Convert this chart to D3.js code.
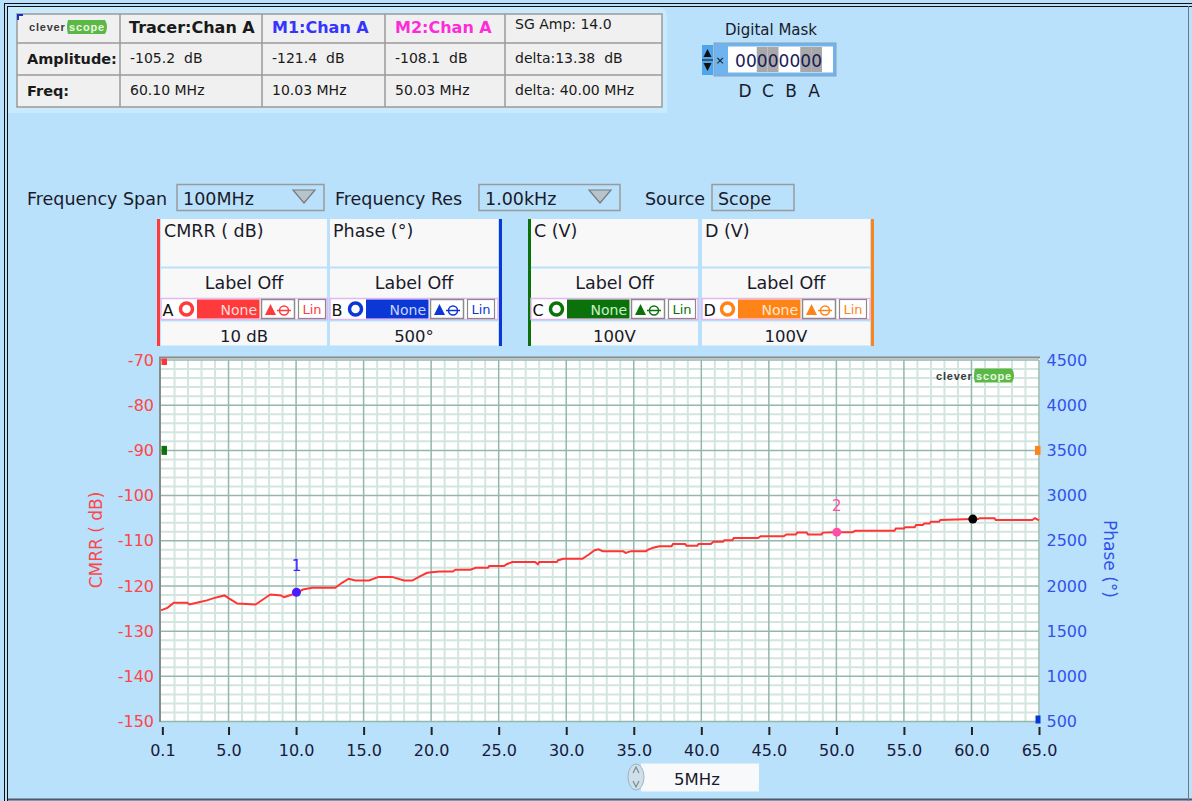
<!DOCTYPE html>
<html><head><meta charset="utf-8">
<script src="https://cdn.jsdelivr.net/npm/d3@7"></script>
<style>body{margin:0;background:#b9e1fb;} svg{display:block}</style>
</head><body><svg id="c" width="1192" height="801"></svg>
<script>
// ---------------- DATA ----------------
const freqMHz = [0,0.5,0.95,1.95,2.1,2.8,3.4,3.9,4.7,5.0,5.65,7.0,7.6,8.1,8.9,9.1,9.5,10.03,10.5,11.2,12.9,13.4,13.9,14.4,15.4,16.1,17.1,18.0,18.6,19.1,19.7,20.6,21.6,21.8,22.9,23.3,24.2,24.3,25.4,25.6,26.0,27.7,27.9,28.0,29.3,29.4,29.8,31.2,31.7,32.1,32.4,32.7,34.2,34.4,34.8,35.9,36.1,36.5,36.9,37.8,37.9,38.8,38.9,39.7,39.8,40.7,40.9,41.6,41.7,42.3,42.4,44.2,44.4,46.1,46.3,47.0,47.1,47.8,47.9,48.9,49.0,50.03,51.2,51.4,54.3,54.4,55.0,55.1,55.8,55.9,56.4,56.5,56.9,57.0,57.6,57.7,60.1,60.5,60.6,61.7,61.8,64.5,64.7,65.0];
const cmrrDb = [-125.4,-124.8,-123.7,-123.7,-124.1,-123.6,-123.2,-122.7,-122.1,-122.7,-123.9,-124.1,-122.9,-121.9,-122.1,-122.5,-122.1,-121.6,-120.8,-120.4,-120.4,-119.3,-118.4,-118.8,-118.8,-118.0,-118.0,-118.8,-118.8,-118.0,-117.1,-116.8,-116.8,-116.4,-116.4,-116.0,-116.0,-115.6,-115.6,-115.2,-114.7,-114.7,-115.2,-114.7,-114.7,-114.3,-114.0,-114.0,-113.0,-112.1,-111.9,-112.3,-112.3,-112.7,-112.3,-112.3,-111.9,-111.5,-111.2,-111.2,-110.7,-110.7,-111.1,-111.1,-110.7,-110.7,-110.2,-110.2,-109.9,-109.9,-109.4,-109.4,-109.0,-109.0,-108.6,-108.6,-108.2,-108.2,-108.6,-108.6,-108.2,-108.1,-108.1,-107.8,-107.8,-107.3,-107.3,-107.0,-107.0,-106.5,-106.5,-106.2,-106.2,-105.8,-105.8,-105.4,-105.2,-105.2,-105.0,-105.0,-105.4,-105.4,-105.0,-105.5];
const xTicks = [0.1,5,10,15,20,25,30,35,40,45,50,55,60,65];
const leftTicks = [-70,-80,-90,-100,-110,-120,-130,-140,-150];
const rightTicks = [4500,4000,3500,3000,2500,2000,1500,1000,500];
const markerLabels = ["1","2",""];
const markerFreq = [10.03,50.03,60.10];
const markerDb = [-121.4,-108.1,-105.2];
const markerColors = ["#4a1cff","#ff4fa6","#000000"];
const tableHeaders = ["Tracer:Chan A","M1:Chan A","M2:Chan A","SG Amp: 14.0"];
const rowLabels = ["Amplitude:","Freq:"];
const amplitudeVals = ["-105.2  dB","-121.4  dB","-108.1  dB","delta:13.38  dB"];
const freqVals = ["60.10 MHz","10.03 MHz","50.03 MHz","delta: 40.00 MHz"];
const channelNames = ["CMRR ( dB)","Phase (°)","C (V)","D (V)"];
const channelLetters = ["A","B","C","D"];
const channelScales = ["10 dB","500°","100V","100V"];
const maskDigits = ["0","0","0","0","0","0","0","0"];
const maskBits = ["D","C","B","A"];
const controlLabels = ["Frequency Span","Frequency Res","Source"];
const controlValues = ["100MHz","1.00kHz","Scope"];
const leftOffsetMarks = [-70,-90];
const rightOffsetMarks = [3500,500];

// ---------------- STYLE / LAYOUT ----------------
const W=1192,H=801;
const BG="#b9e1fb";
const UI="'DejaVu Sans', sans-serif";
const chColors = ["#ff3a3a","#0a37d5","#0b720b","#ff8417"];
const chLight = ["#ffdada","#c8d4ff","#c8f0c8","#ffe6cc"];
const svg = d3.select("#c");
svg.append("rect").attr("width",W).attr("height",H).attr("fill",BG);

// outer frame
const fr = svg.append("g").attr("stroke","#111").attr("stroke-width",1).attr("fill","none");
fr.append("line").attr("x1",4).attr("x2",W).attr("y1",3.5).attr("y2",3.5);
fr.append("line").attr("x1",7).attr("x2",W).attr("y1",6.5).attr("y2",6.5);
fr.append("line").attr("x1",4.5).attr("x2",4.5).attr("y1",3).attr("y2",H);
fr.append("line").attr("x1",7.5).attr("x2",7.5).attr("y1",6).attr("y2",H);
svg.append("line").attr("x1",8).attr("x2",W).attr("y1",799.5).attr("y2",799.5).attr("stroke","#4a5a68").attr("stroke-width",2);
svg.append("line").attr("x1",1188.5).attr("x2",1188.5).attr("y1",6).attr("y2",H).attr("stroke","#6a7a88").attr("stroke-width",1);

// ---------- top table ----------
svg.append("path").attr("d","M8,7 H656 Q667,7 667,18 V113 H8 Z").attr("fill","#c7eafc");
const colX=[17,120,262,385,505,662], rowY=[14,43,75,107];
const tb = svg.append("g");
tb.append("rect").attr("x",colX[0]).attr("y",rowY[0]).attr("width",colX[5]-colX[0]).attr("height",rowY[3]-rowY[0]).attr("fill","#f0f0f0").attr("stroke","#9a9a9a").attr("stroke-width",1.5);
colX.slice(1,5).forEach(x=>tb.append("line").attr("x1",x).attr("x2",x).attr("y1",rowY[0]).attr("y2",rowY[3]).attr("stroke","#9a9a9a").attr("stroke-width",1.5));
rowY.slice(1,3).forEach(y=>tb.append("line").attr("x1",colX[0]).attr("x2",colX[5]).attr("y1",y).attr("y2",y).attr("stroke","#9a9a9a").attr("stroke-width",1.5));
tb.append("path").attr("d","M18,20 V15 H23").attr("stroke","#1a2fc0").attr("stroke-width",2).attr("fill","none");
function logo(g,x,y){
  // "clever" dark text + "scope" on a green pill; y = vertical centre
  g.append("text").attr("x",x).attr("y",y+4).attr("font-family","'Liberation Sans',Arial").attr("font-weight","bold")
    .attr("font-size",11).attr("letter-spacing",0.8).attr("fill","#3a3a3a").text("clever");
  const lx=x+39, pw=40, ph=7;
  g.append("path").attr("d",`M${lx},${y-ph} H${lx+pw-3} Q${lx+pw+1},${y} ${lx+pw-3},${y+ph} H${lx} Q${lx-2},${y} ${lx},${y-ph} Z`).attr("fill","#5cb846");
  g.append("text").attr("x",lx+pw/2-1).attr("y",y+4).attr("text-anchor","middle").attr("font-family","'Liberation Sans',Arial").attr("font-weight","bold")
    .attr("font-size",11).attr("letter-spacing",0.8).attr("fill","#e8f8e0").text("scope");
}
logo(tb,29,27);
const hdrColors=["#1a1a1a","#3535ff","#ff2bd8","#1a1a1a"];
tableHeaders.forEach((t,i)=>{
  tb.append("text").attr("x",colX[i+1]+(i===0?9:10)).attr("y",i===3?29:33).attr("font-family",UI)
    .attr("font-weight",i===3?"normal":"bold").attr("font-size",i===3?14:16).attr("fill",hdrColors[i]).text(t);
});
rowLabels.forEach((t,i)=>tb.append("text").attr("x",27).attr("y",i===0?64:96).attr("font-family",UI).attr("font-weight","bold").attr("font-size",14.5).attr("fill","#1a1a1a").text(t));
amplitudeVals.forEach((t,i)=>tb.append("text").attr("x",colX[i+1]+10).attr("y",63).attr("font-family",UI).attr("font-size",14).attr("fill","#1a1a1a").attr("xml:space","preserve").text(t));
freqVals.forEach((t,i)=>tb.append("text").attr("x",colX[i+1]+10).attr("y",95).attr("font-family",UI).attr("font-size",14).attr("fill","#1a1a1a").attr("xml:space","preserve").text(t));

// ---------- Digital mask ----------
const dm = svg.append("g");
dm.append("text").attr("x",771).attr("y",35).attr("text-anchor","middle").attr("font-family",UI).attr("font-size",15).attr("fill","#1a1a2a").text("Digital Mask");
dm.append("rect").attr("x",702).attr("y",45).attr("width",11).attr("height",30).attr("fill","#4fa6ec");
dm.append("path").attr("d","M703.5,57 L707.5,49 L711.5,57 Z M703.5,63 L707.5,71 L711.5,63 Z").attr("fill","#111");
dm.append("line").attr("x1",702).attr("x2",713).attr("y1",60).attr("y2",60).attr("stroke","#111");
dm.append("rect").attr("x",714).attr("y",43).attr("width",122).attr("height",33).attr("fill","#6fb4ee").attr("stroke","#8aa2b8");
dm.append("text").attr("x",720).attr("y",64).attr("text-anchor","middle").attr("font-family",UI).attr("font-size",11).attr("fill","#111").text("×");
dm.append("rect").attr("x",728).attr("y",46.5).attr("width",105).attr("height",26).attr("fill","#fff");
const dX = d3.scaleBand().domain(d3.range(8)).range([735,822]);
dm.selectAll(".hl").data(maskDigits).join("rect").attr("x",(d,i)=>dX(i)).attr("y",47).attr("width",dX.bandwidth()).attr("height",25)
  .attr("fill",(d,i)=>(Math.floor(i/2)%2===1)?"#a8a8a8":"none");
dm.selectAll(".dg").data(maskDigits).join("text").attr("x",(d,i)=>dX(i)+dX.bandwidth()/2).attr("y",67).attr("text-anchor","middle")
  .attr("font-family",UI).attr("font-size",17).attr("fill","#1a1a5a").text(d=>d);
const bX = d3.scalePoint().domain(maskBits).range([745,814]);
dm.selectAll(".bt").data(maskBits).join("text").attr("x",d=>bX(d)).attr("y",97).attr("text-anchor","middle")
  .attr("font-family",UI).attr("font-size",17).attr("fill","#1a1a2a").text(d=>d);

// ---------- control row ----------
const ctl = svg.append("g").attr("font-family",UI).attr("font-size",17.5).attr("fill","#1a1a2a");
const ctlLabelX=[27,335,645], boxX=[177,479,712], boxW=[147,141,82];
controlLabels.forEach((t,i)=>{
  ctl.append("text").attr("x",ctlLabelX[i]).attr("y",205).text(t);
  ctl.append("rect").attr("x",boxX[i]).attr("y",184.5).attr("width",boxW[i]).attr("height",26).attr("fill","none").attr("stroke","#9a9a9a").attr("stroke-width",1.5);
  ctl.append("text").attr("x",boxX[i]+6).attr("y",205).text(controlValues[i]);
  if(i<2){const tx=boxX[i]+boxW[i]-31;
    ctl.append("path").attr("d",`M${tx},${190} H${tx+22} L${tx+11},${203} Z`).attr("fill","#b8c4cc").attr("stroke","#7a7a7a").attr("stroke-width",1.2);}
});

// ---------- channel panels ----------
const panelL=[161,330,531,702], panelR=[327,498,698,870], barX=[157,499,528,871];
const pg = svg.append("g").attr("font-family",UI);
channelNames.forEach((name,i)=>{
  const L=panelL[i], R=panelR[i], w=R-L, c=chColors[i];
  pg.append("rect").attr("x",L).attr("y",219).attr("width",w).attr("height",47.5).attr("fill","#f8f8f8");
  pg.append("rect").attr("x",L).attr("y",268.5).attr("width",w).attr("height",29.5).attr("fill","#f8f8f8");
  pg.append("rect").attr("x",L).attr("y",321.5).attr("width",w).attr("height",24).attr("fill","#f8f8f8");
  pg.append("rect").attr("x",barX[i]).attr("y",219).attr("width",3).attr("height",127).attr("fill",c);
  pg.append("text").attr("x",L+3).attr("y",237).attr("font-size",17.5).attr("fill","#1a1a2a").text(name);
  pg.append("text").attr("x",L+w/2).attr("y",289).attr("text-anchor","middle").attr("font-size",17.5).attr("fill","#1a1a2a").text("Label Off");
  pg.append("text").attr("x",L+w/2).attr("y",342).attr("text-anchor","middle").attr("font-size",16.5).attr("fill","#1a1a2a").text(channelScales[i]);
  // button row
  pg.append("rect").attr("x",L).attr("y",298.5).attr("width",w).attr("height",21).attr("fill","#fff").attr("stroke","#e2b6ee").attr("stroke-width",1.5);
  pg.append("text").attr("x",L+1.5).attr("y",315.5).attr("font-size",16).attr("fill","#111").text(channelLetters[i]);
  pg.append("circle").attr("cx",L+25.5).attr("cy",309).attr("r",6).attr("fill","#fff").attr("stroke",c).attr("stroke-width",3.5);
  pg.append("rect").attr("x",L+36).attr("y",299.5).attr("width",62.5).attr("height",19).attr("fill",c);
  pg.append("text").attr("x",L+96).attr("y",314.5).attr("text-anchor","end").attr("font-size",14).attr("fill",chLight[i]).text("None");
  pg.append("rect").attr("x",L+100.5).attr("y",299.5).attr("width",33).attr("height",19).attr("fill","#fff").attr("stroke","#8a8a8a").attr("stroke-width",1.5);
  pg.append("path").attr("d",`M${L+104},${315} L${L+109.5},${304} L${L+115},${315} Z`).attr("fill",c);
  pg.append("circle").attr("cx",L+123).attr("cy",310.5).attr("r",4.5).attr("fill","none").attr("stroke",c).attr("stroke-width",1.5);
  pg.append("line").attr("x1",L+116).attr("x2",L+130).attr("y1",310.5).attr("y2",310.5).attr("stroke",c).attr("stroke-width",1.5);
  pg.append("rect").attr("x",L+137.5).attr("y",299.5).attr("width",27).attr("height",19).attr("fill","#fff").attr("stroke","#8a8a8a").attr("stroke-width",1.2);
  pg.append("text").attr("x",L+151).attr("y",314).attr("text-anchor","middle").attr("font-size",13).attr("fill",c).text("Lin");
});

// ---------- plot ----------
const x = d3.scaleLinear().domain([0,65]).range([161,1039]);
const yL = d3.scaleLinear().domain([-150,-70]).range([721.5,360]);
const yR = d3.scaleLinear().domain([500,4500]).range([721.5,360]);
const plot = svg.append("g");
plot.append("rect").attr("x",160).attr("y",358).attr("width",880).attr("height",364).attr("fill","#fff");
const minorX = d3.range(0,66,1).filter(v=>v%5!==0 && v>0);
const minorY = d3.range(-150,-69,2).filter(v=>v%10!==0);
plot.selectAll(".mx").data(minorX).join("line").attr("x1",d=>x(d)).attr("x2",d=>x(d)).attr("y1",360).attr("y2",721.5).attr("stroke","#d3e5df").attr("stroke-width",2);
plot.selectAll(".my").data(minorY).join("line").attr("x1",161).attr("x2",1039).attr("y1",d=>yL(d)).attr("y2",d=>yL(d)).attr("stroke","#d3e5df").attr("stroke-width",2);
plot.selectAll(".Mx").data(xTicks.slice(1)).join("line").attr("x1",d=>x(d)).attr("x2",d=>x(d)).attr("y1",360).attr("y2",721.5).attr("stroke","#93b7ad").attr("stroke-width",1.5);
plot.selectAll(".My").data(leftTicks).join("line").attr("x1",161).attr("x2",1039).attr("y1",d=>yL(d)).attr("y2",d=>yL(d)).attr("stroke","#93b7ad").attr("stroke-width",1.5);
plot.append("path").attr("d","M160,722 V357.5 H1040").attr("fill","none").attr("stroke","#8a8a8a").attr("stroke-width",2);

// logo in plot
logo(plot,936,375.5);

// trace
const pts = freqMHz.map((f,i)=>[f,cmrrDb[i]]);
plot.append("path").datum(pts).attr("fill","none").attr("stroke","#ff3535").attr("stroke-width",2)
  .attr("d",d3.line().x(d=>x(d[0])).y(d=>yL(d[1])));

// markers
markerFreq.forEach((f,i)=>{
  plot.append("circle").attr("cx",x(f)).attr("cy",yL(markerDb[i])).attr("r",4.5).attr("fill",markerColors[i]);
  if(markerLabels[i]) plot.append("text").attr("x",x(f)).attr("y",yL(markerDb[i])-21).attr("text-anchor","middle")
    .attr("font-family",UI).attr("font-size",15).attr("fill",markerColors[i]).text(markerLabels[i]);
});

// offset marks
plot.append("rect").attr("x",161.5).attr("y",yL(leftOffsetMarks[0])-1.5).attr("width",5.5).attr("height",6.5).attr("fill","#ff3535");
plot.append("rect").attr("x",161.5).attr("y",yL(leftOffsetMarks[1])-4.5).attr("width",5.5).attr("height",9).attr("fill","#0b720b");
plot.append("rect").attr("x",1035).attr("y",yR(rightOffsetMarks[0])-4.5).attr("width",5.5).attr("height",9).attr("fill","#ff8417");
plot.append("rect").attr("x",1035.5).attr("y",yR(rightOffsetMarks[1])-6).attr("width",5).attr("height",8).attr("fill","#0a37d5");

// axes
const ax = svg.append("g").attr("transform","translate(0,727)")
  .call(d3.axisBottom(x).tickValues(xTicks).tickFormat(d3.format(".1f")).tickSizeInner(8).tickSizeOuter(0).tickPadding(9.5));
ax.select(".domain").remove();
ax.selectAll("line").attr("stroke","#222").attr("stroke-width",2);
ax.selectAll("text").attr("font-family",UI).attr("font-size",16).attr("fill","#1a1a3a");

const al = svg.append("g").attr("transform","translate(161,0)")
  .call(d3.axisLeft(yL).tickValues(leftTicks).tickFormat(d=>String(d)).tickSize(0).tickPadding(7));
al.select(".domain").remove();
al.selectAll("text").attr("font-family",UI).attr("font-size",16).attr("fill","#ff4646");

const ar = svg.append("g").attr("transform","translate(1039,0)")
  .call(d3.axisRight(yR).tickValues(rightTicks).tickFormat(d=>String(d)).tickSize(0).tickPadding(7.5));
ar.select(".domain").remove();
ar.selectAll("text").attr("font-family",UI).attr("font-size",16).attr("fill","#3452ea");

svg.append("text").attr("transform","translate(102,540) rotate(-90)").attr("text-anchor","middle")
  .attr("font-family",UI).attr("font-size",17).attr("fill","#ff4646").text("CMRR ( dB)");
svg.append("text").attr("transform","translate(1104,559) rotate(90)").attr("text-anchor","middle")
  .attr("font-family",UI).attr("font-size",17).attr("fill","#3452ea").text("Phase (°)");

// bottom span control
const bc = svg.append("g");
bc.append("rect").attr("x",641).attr("y",763.5).attr("width",118).attr("height",28).attr("fill","#f7f9fa");
bc.append("ellipse").attr("cx",636).attr("cy",777).attr("rx",8).attr("ry",13).attr("fill","#cfe0ea").attr("stroke","#9fb4c2");
bc.append("path").attr("d","M633,773 L636,767 L639,773 M633,781 L636,787 L639,781").attr("fill","none").attr("stroke","#7a8a98").attr("stroke-width",1.2);
bc.append("text").attr("x",697).attr("y",785).attr("text-anchor","middle").attr("font-family",UI).attr("font-size",16.5).attr("fill","#1a1a2a").text("5MHz");
</script></body></html>
